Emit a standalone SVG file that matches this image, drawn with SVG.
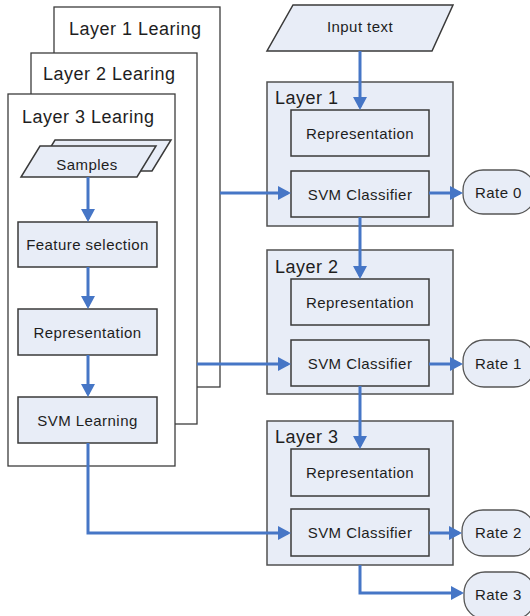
<svg xmlns="http://www.w3.org/2000/svg" width="530" height="616" viewBox="0 0 530 616">
<defs>
<style>
.t{font-family:"Liberation Sans",Arial,sans-serif;fill:#1e1e1e}
.big{font-size:18px;letter-spacing:0.5px}
.sm{font-size:15px;letter-spacing:0.45px}
.learn{fill:#ffffff;stroke:#3c3c3c;stroke-width:1.3}
.layer{fill:#e8edf7;stroke:#505050;stroke-width:1.5}
.box{fill:#e8edf7;stroke:#3a3a3a;stroke-width:1.5}
.rate{fill:#e8edf7;stroke:#555555;stroke-width:1.3}
.c{fill:none;stroke:#4676c6;stroke-width:3}
</style>
<marker id="ah" markerUnits="userSpaceOnUse" markerWidth="14" markerHeight="14" refX="10" refY="7" orient="auto">
<path d="M0,0 L13,7 L0,14 z" fill="#4676c6"/>
</marker>
</defs>

<g id="layer1-learning">
<rect class="learn" x="54" y="7" width="166" height="380"/>
<text class="t big" x="69" y="35">Layer 1 Learing</text>
</g>
<g id="layer2-learning">
<rect class="learn" x="31" y="53" width="166" height="371"/>
<text class="t big" x="43" y="80">Layer 2 Learing</text>
</g>
<g id="layer3-learning">
<rect class="learn" x="8" y="94" width="167" height="372"/>
<text class="t big" x="22" y="123">Layer 3 Learing</text>
</g>

<g id="samples">
<polygon class="box" points="55,140 171,140 152,171 36,171"/>
<polygon class="box" points="40,146 156,146 137,177 21,177"/>
<text class="t sm" x="87" y="170" text-anchor="middle">Samples</text>
</g>
<g id="feature-selection">
<rect class="box" x="18" y="222" width="139" height="45"/>
<text class="t sm" x="87.5" y="249.5" text-anchor="middle">Feature selection</text>
</g>
<g id="representation-learn">
<rect class="box" x="18" y="309" width="139" height="46"/>
<text class="t sm" x="87.5" y="337.5" text-anchor="middle">Representation</text>
</g>
<g id="svm-learning">
<rect class="box" x="18" y="397" width="139" height="46"/>
<text class="t sm" x="87.5" y="425.5" text-anchor="middle">SVM Learning</text>
</g>

<g id="input-text">
<polygon class="box" points="293,5 453,5 432,51 267,51"/>
<text class="t sm" x="360" y="32" text-anchor="middle">Input text</text>
</g>

<g id="layer1">
<rect class="layer" x="267" y="82" width="186" height="144"/>
<text class="t big" x="275" y="104">Layer 1</text>
<rect class="box" x="291" y="110" width="138" height="46"/>
<text class="t sm" x="360" y="138.5" text-anchor="middle">Representation</text>
<rect class="box" x="291" y="171" width="138" height="46"/>
<text class="t sm" x="360" y="199.5" text-anchor="middle">SVM Classifier</text>
</g>
<g id="layer2">
<rect class="layer" x="267" y="250" width="186" height="144"/>
<text class="t big" x="275" y="273">Layer 2</text>
<rect class="box" x="291" y="279" width="138" height="46"/>
<text class="t sm" x="360" y="307.5" text-anchor="middle">Representation</text>
<rect class="box" x="291" y="340" width="138" height="46"/>
<text class="t sm" x="360" y="368.5" text-anchor="middle">SVM Classifier</text>
</g>
<g id="layer3">
<rect class="layer" x="267" y="421" width="186" height="144"/>
<text class="t big" x="275" y="443">Layer 3</text>
<rect class="box" x="291" y="449" width="138" height="47"/>
<text class="t sm" x="360" y="477.5" text-anchor="middle">Representation</text>
<rect class="box" x="291" y="509" width="138" height="47"/>
<text class="t sm" x="360" y="537.5" text-anchor="middle">SVM Classifier</text>
</g>

<g id="rate0">
<rect class="rate" x="463" y="170" width="72" height="44" rx="20" ry="20"/>
<text class="t sm" x="475" y="198">Rate 0</text>
</g>
<g id="rate1">
<rect class="rate" x="463" y="340" width="72" height="47" rx="21" ry="21"/>
<text class="t sm" x="475" y="369">Rate 1</text>
</g>
<g id="rate2">
<rect class="rate" x="462" y="510" width="73" height="46" rx="21" ry="21"/>
<text class="t sm" x="475" y="538">Rate 2</text>
</g>
<g id="rate3">
<rect class="rate" x="464" y="572" width="71" height="47" rx="21" ry="21"/>
<text class="t sm" x="475" y="600">Rate 3</text>
</g>

<g id="connectors">
<path class="c" marker-end="url(#ah)" d="M88,177 L88,219"/>
<path class="c" marker-end="url(#ah)" d="M88,267 L88,306"/>
<path class="c" marker-end="url(#ah)" d="M88,355 L88,394"/>
<path class="c" marker-end="url(#ah)" d="M88,443 L88,533 L288,533"/>
<path class="c" marker-end="url(#ah)" d="M360,51 L360,107"/>
<path class="c" marker-end="url(#ah)" d="M360,217 L360,276"/>
<path class="c" marker-end="url(#ah)" d="M360,386 L360,446"/>
<path class="c" marker-end="url(#ah)" d="M360,565 L360,593 L461,593"/>
<path class="c" marker-end="url(#ah)" d="M220,193 L288,193"/>
<path class="c" marker-end="url(#ah)" d="M197,364 L288,364"/>
<path class="c" marker-end="url(#ah)" d="M429,193 L460,193"/>
<path class="c" marker-end="url(#ah)" d="M429,364 L460,364"/>
<path class="c" marker-end="url(#ah)" d="M429,533 L459,533"/>
</g>
</svg>
